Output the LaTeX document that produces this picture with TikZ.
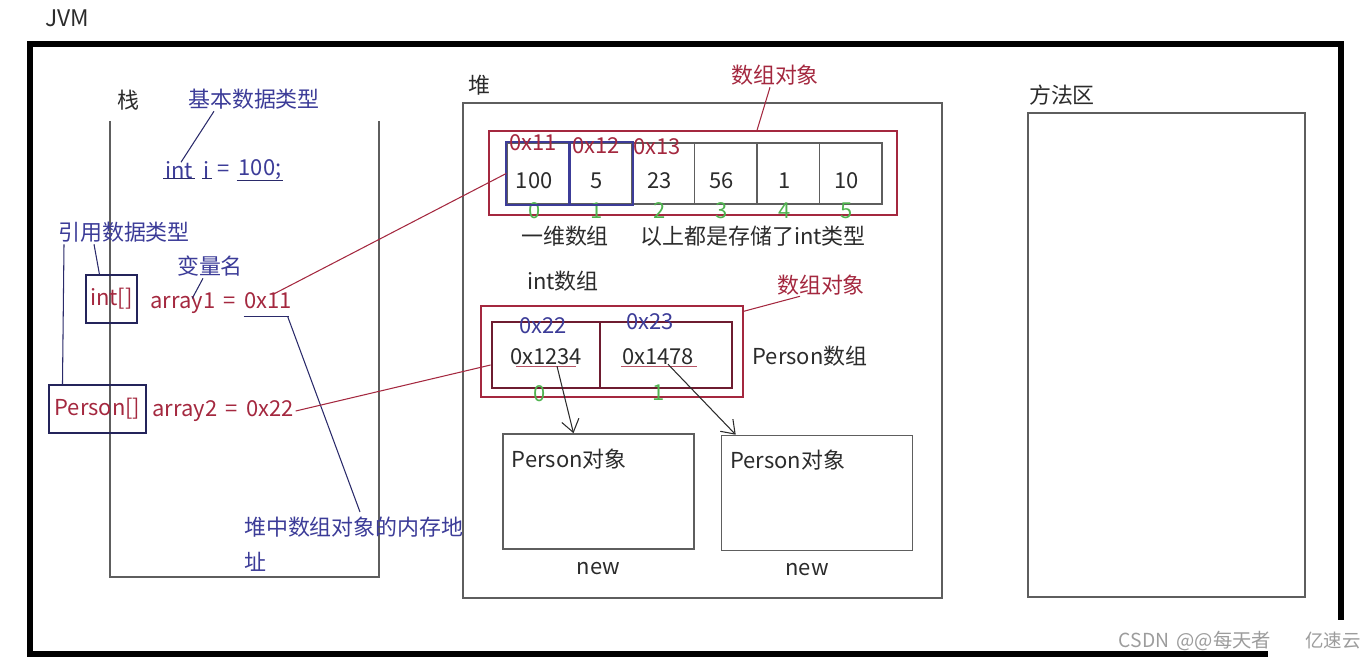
\documentclass[tikz,border=0pt]{standalone}
\usepackage{fontspec}
\setmainfont{Noto Sans CJK SC}[WordSpace=1.7]
\usepackage{xcolor}
\usepackage{tikz}
\usetikzlibrary{calc,arrows.meta}
\definecolor{ink}{HTML}{2B2B2B}
\definecolor{frame}{HTML}{5E5E5E}
\definecolor{navy}{HTML}{3C3C98}
\definecolor{wine}{HTML}{A4283F}
\definecolor{maroon}{HTML}{6E1C30}
\definecolor{leaf}{HTML}{4FB34F}
\definecolor{wmark}{HTML}{9C9C9C}
\tikzset{
  outer/.style={draw=black, line width=3.4pt},
  base/.style={draw=frame, line width=0.9pt},
  redbox/.style={draw=wine, line width=0.8pt, inner sep=0pt},
  cellbox/.style={draw=frame, line width=0.9pt, inner sep=0pt, minimum width=1.25cm, minimum height=1.22cm},
  hiedge/.style={draw=navy, line width=1.3pt},
  refbox/.style={draw=maroon, line width=1.6pt, inner sep=0pt, minimum height=1.32cm},
  objbox/.style={draw=frame, line width=0.9pt, inner sep=0pt, minimum width=3.82cm, minimum height=2.3cm},
  typebox/.style={draw=navy!60!black, line width=0.6pt, minimum height=0.96cm},
  note/.style={draw=navy!70!black, line width=0.6pt},
  link/.style={draw=wine, line width=0.6pt},
  under/.style={draw=wine!80, line width=0.7pt},
  ptr/.style={draw=ink, line width=0.6pt, -{Straight Barb[length=7pt,width=10pt]}},
  lab/.style={text=ink, font=\fontsize{12.5}{20}\selectfont, inner sep=1pt},
  labn/.style={lab, text=navy},
  labr/.style={lab, text=wine},
  labg/.style={lab, text=leaf},
}
\begin{document}
\begin{tikzpicture}[x=0.02cm,y=-0.02cm]
  \useasboundingbox (0,0) rectangle (1366,662);
  \node[lab, font=\fontsize{13}{15}\selectfont] (jvm) at (67,18) {JVM};
  \draw[outer] (30,44) rectangle (1341,654);

  % stack
  \node[lab] (stack) at (128,100) {栈};
  \draw[base] (110,121) -- (110,577) -- (379,577) -- (379,121);
  \node[labn] (prim) at (254,99) {基本数据类型};
  \node[labn] (kint) at (179,170) {int};
  \node[labn] (ki) at (207,170) {i};
  \node[labn] (keq) at (224,171) {=};
  \node[labn] (k100) at (260,170) {100;};
  \foreach \k in {kint,ki,k100}
    \draw[note] ($(\k.south west)+(0,-2)$) -- ($(\k.south east)+(0,-2)$);
  \draw[note] ($(prim.south)+(-40,0)$) -- ($(kint.north)+(2,3)$);
  \node[labn] (refty) at (124,232) {引用数据类型};
  \node[labn] (vname) at (210,266) {变量名};
  \node[lab, typebox, text=wine, minimum width=1.02cm] (tarr) at (111.5,299) {int[]};
  \node[labr] (a1) at (221,303) {array1 = 0x11};
  \node[lab, typebox, text=wine, minimum width=1.94cm] (tper) at (97.5,409) {Person[]};
  \node[labr] (a2) at (223,411) {array2 = 0x22};
  \draw[note] ($(refty.south west)+(38,0)$) -- ($(tarr.north west)+(14,0)$);
  \draw[note] ($(refty.south west)+(8,0)$) -- ($(tper.north west)+(14,0)$);
  \draw[note] ($(vname.south)+(-7,0)$) -- ($(a1.north west)+(44,8)$);
  \draw[note] ($(a1.south east)+(-50,1)$) -- ($(a1.south east)+(-5,1)$);
  \node[labn, anchor=north west, align=left] (addr) at (242,515) {堆中数组对象的内存地\\址};
  \draw[note] ($(a1.south east)+(-6,1)$) -- ($(addr.north west)+(118,-3)$);

  % heap
  \node[lab] (heapt) at (479,85) {堆};
  \draw[base] (463,103) rectangle (942,598);
  \node[redbox, minimum width=8.16cm, minimum height=1.68cm] (arr1) at (693,173) {};
  \foreach \v [count=\i from 0] in {100,5,23,56,1,10}{
    \node[cellbox] (c\i) at (538.25+62.5*\i,173.5) {};
    \node[lab] (v\i) at ($(c\i)+(-4,7)$) {\v};
    \node[labg] (n\i) at ($(c\i.south)+(-4,6)$) {\i};
  }
  \foreach \i in {0,1} \draw[hiedge] (c\i.north west) rectangle (c\i.south east);
  \node[labr] (ad0) at ($(c0.north)+(-5,0)$) {0x11};
  \node[labr] (ad1) at ($(c1.north)+(-5,3)$) {0x12};
  \node[labr] (ad2) at ($(c2.north)+(-6,4)$) {0x13};
  \node[labr] (obj1) at (775,75) {数组对象};
  \draw[link] ($(obj1.south)+(-5,0)$) -- ($(arr1.north)+(64,0)$);
  \draw[link] ($(a1.east)+(-20,-9)$) -- (c0.west);
  \node[lab] (cap1) at (565,236) {一维数组};
  \node[lab] (cap2) at (753,236) {以上都是存储了int类型};
  \node[lab] (cap3) at (563,281) {int数组};

  \node[labr] (obj2) at (821,285) {数组对象};
  \node[redbox, minimum width=5.24cm, minimum height=1.82cm] (parr) at (612,351.5) {};
  \draw[link] ($(obj2.south west)+(25,-1)$) -- ($(parr.north east)+(0,6)$);
  \node[refbox, minimum width=2.16cm] (pc0) at (546,355) {};
  \node[refbox, minimum width=2.64cm] (pc1) at (666,355) {};
  \node[labn] (pn0) at (543,326) {0x22};
  \node[labn] (pn1) at (650,322) {0x23};
  \node[lab] (pa0) at (546,357) {0x1234};
  \node[lab] (pa1) at (658,357) {0x1478};
  \draw[under] ($(pa0.south)+(-30,-1)$) -- ++(60,0);
  \draw[under] ($(pa1.south)+(-37,-1)$) -- ++(76,0);
  \node[labg] (pi0) at (540,394) {0};
  \node[labg] (pi1) at (659,393) {1};
  \node[lab] (pcap) at (810,356) {Person数组};
  \draw[link] (a2.east) -- ($(pc0.west)+(0,10)$);

  \node[objbox] (po1) at (598.5,491.5) {};
  \node[objbox] (po2) at (817,493) {};
  \node[lab] (pt1) at ($(po1.north west)+(67,26)$) {Person对象};
  \node[lab] (pt2) at ($(po2.north west)+(67,25)$) {Person对象};
  \node[lab] (nw1) at ($(po1.south)+(0,19)$) {new};
  \node[lab] (nw2) at ($(po2.south)+(-10,18)$) {new};
  \draw[ptr] ($(pa0.south)+(11,-1)$) -- ($(po1.north)+(-25,0)$);
  \draw[ptr] ($(pa1.south)+(10,-3)$) -- ($(po2.north west)+(15,0)$);

  % method area
  \node[lab] (mtit) at (1062,95) {方法区};
  \draw[base] (1028,113) rectangle (1305,597);

  \fill[white] (1268,620) rectangle (1366,662);
  \node[lab, text=wmark, font=\fontsize{11}{13}\selectfont] (wm1) at (1195,641) {CSDN @@每天者};
  \node[lab, text=wmark, font=\fontsize{10.5}{13}\selectfont] (wm2) at (1333,641) {亿速云};
\end{tikzpicture}
\end{document}
